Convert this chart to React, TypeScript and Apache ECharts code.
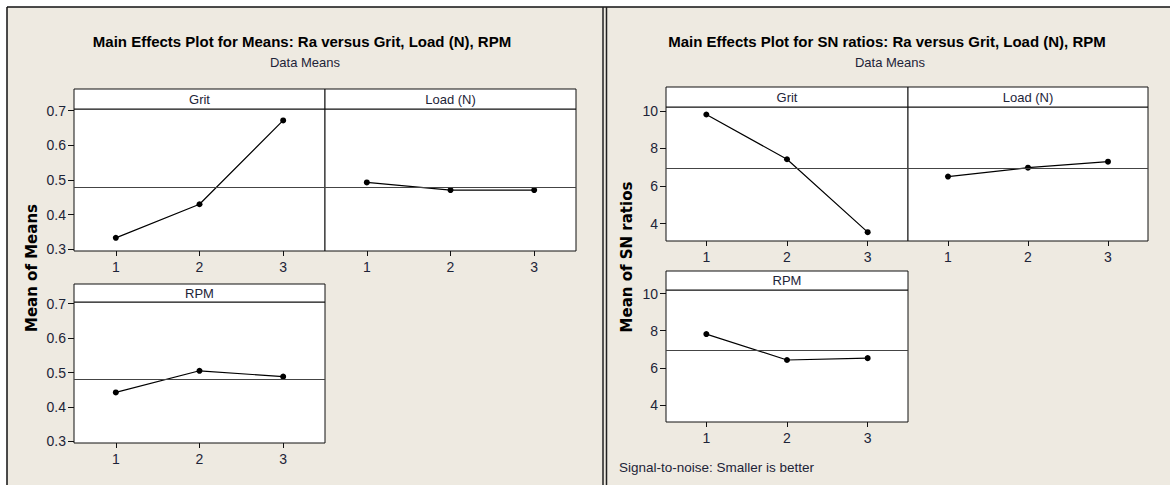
import React, { useEffect, useRef } from "react";
import * as echarts from "echarts";

const levels = [1, 2, 3];
const factorNames = ["Grit", "Load (N)", "RPM"];
const gritMeans = [0.333, 0.43, 0.672];
const loadMeans = [0.493, 0.471, 0.471];
const rpmMeans = [0.442, 0.505, 0.488];
const gritSN = [9.8, 7.42, 3.54];
const loadSN = [6.5, 6.97, 7.29];
const rpmSN = [7.82, 6.42, 6.52];
const meansTicks = [0.3, 0.4, 0.5, 0.6, 0.7];
const snTicks = [4, 6, 8, 10];

const leftTitle = "Main Effects Plot for Means: Ra versus Grit, Load (N), RPM";
const rightTitle = "Main Effects Plot for SN ratios: Ra versus Grit, Load (N), RPM";
const subTitle = "Data Means";
const leftYName = "Mean of Means";
const rightYName = "Mean of SN ratios";
const footNote = "Signal-to-noise: Smaller is better";

const BG = "#EEEAE1";
const TXT = "#1d2438";
const FONT = "Liberation Sans, Arial, sans-serif";

type Panel = {
  left: number; top: number; width: number; height: number;
  values: number[]; name: string; sn: boolean; showY: boolean; strip: number;
};

const panels: Panel[] = [
  { left: 74, top: 109, width: 251, height: 142, values: gritMeans, name: factorNames[0], sn: false, showY: true, strip: 20 },
  { left: 325, top: 109, width: 251, height: 142, values: loadMeans, name: factorNames[1], sn: false, showY: false, strip: 20 },
  { left: 74, top: 302, width: 251, height: 141, values: rpmMeans, name: factorNames[2], sn: false, showY: true, strip: 18 },
  { left: 666, top: 107, width: 242, height: 134, values: gritSN, name: factorNames[0], sn: true, showY: true, strip: 20 },
  { left: 908, top: 107, width: 240, height: 134, values: loadSN, name: factorNames[1], sn: true, showY: false, strip: 20 },
  { left: 666, top: 290, width: 242, height: 132, values: rpmSN, name: factorNames[2], sn: true, showY: true, strip: 19 },
];

const mean = (a: number[]) => a.reduce((s, v) => s + v, 0) / a.length;

export default function App() {
  const ref = useRef<HTMLDivElement>(null);
  useEffect(() => {
    document.body.style.margin = "0";
    if (!ref.current) return;
    const chart = echarts.init(ref.current, undefined, { renderer: "svg" });
    const grandMeans = mean([...gritMeans, ...loadMeans, ...rpmMeans]);
    const grandSN = mean([...gritSN, ...loadSN, ...rpmSN]);

    const grid = panels.map((p) => ({
      left: p.left, top: p.top, width: p.width, height: p.height,
      show: true, backgroundColor: "#ffffff", borderColor: "#111", borderWidth: 1,
      containLabel: false,
    }));
    const xAxis = panels.map((p, i) => ({
      type: "value", gridIndex: i, min: 0.5, max: 3.5,
      axisLine: { show: false }, splitLine: { show: false },
      axisTick: { show: true, customValues: levels, length: 5, lineStyle: { color: "#111" } },
      axisLabel: { customValues: levels, margin: 9, fontSize: 14, color: TXT, fontFamily: FONT },
    }));
    const yAxis = panels.map((p, i) => ({
      type: "value", gridIndex: i,
      min: p.sn ? 3.07 : 0.295, max: p.sn ? 10.2 : 0.705,
      axisLine: { show: false }, splitLine: { show: false },
      axisTick: { show: p.showY, customValues: p.sn ? snTicks : meansTicks, length: 6, lineStyle: { color: "#111" } },
      axisLabel: { show: p.showY, customValues: p.sn ? snTicks : meansTicks, margin: 8, fontSize: 14, color: TXT, fontFamily: FONT },
    }));
    const series = panels.map((p, i) => ({
      type: "line", xAxisIndex: i, yAxisIndex: i,
      data: levels.map((l, k) => [l, p.values[k]]),
      symbol: "circle", symbolSize: 6,
      itemStyle: { color: "#000" },
      lineStyle: { color: "#000", width: 1.2 },
      markLine: {
        silent: true, symbol: "none", label: { show: false },
        lineStyle: { color: "#444", width: 1.2, type: "solid" },
        data: [{ yAxis: p.sn ? grandSN : grandMeans }],
      },
    }));

    const graphic: any[] = [
      { type: "rect", z: -10, shape: { x: 7, y: 7, width: 1163, height: 478 }, style: { fill: BG } },
      { type: "line", shape: { x1: 7, y1: 7, x2: 1170, y2: 7 }, style: { stroke: "#111", lineWidth: 1.5 } },
      { type: "line", shape: { x1: 7, y1: 7, x2: 7, y2: 485 }, style: { stroke: "#111", lineWidth: 1.5 } },
      { type: "line", shape: { x1: 603, y1: 7, x2: 603, y2: 485 }, style: { stroke: "#222", lineWidth: 1.5 } },
      { type: "line", shape: { x1: 606.5, y1: 7, x2: 606.5, y2: 485 }, style: { stroke: "#222", lineWidth: 1.5 } },
      { type: "text", x: 302, y: 41, style: { text: leftTitle, font: `bold 15px ${FONT}`, fill: "#000", textAlign: "center", textVerticalAlign: "middle" } },
      { type: "text", x: 305, y: 62, style: { text: subTitle, font: `13px ${FONT}`, fill: TXT, textAlign: "center", textVerticalAlign: "middle" } },
      { type: "text", x: 887, y: 41, style: { text: rightTitle, font: `bold 15px ${FONT}`, fill: "#000", textAlign: "center", textVerticalAlign: "middle" } },
      { type: "text", x: 890, y: 62, style: { text: subTitle, font: `13px ${FONT}`, fill: TXT, textAlign: "center", textVerticalAlign: "middle" } },
      { type: "text", x: 32, y: 268, rotation: Math.PI / 2, style: { text: leftYName, font: `bold 15px DejaVu Sans, sans-serif`, fill: "#000", textAlign: "center", textVerticalAlign: "middle" } },
      { type: "text", x: 627, y: 257, rotation: Math.PI / 2, style: { text: rightYName, font: `bold 15px DejaVu Sans, sans-serif`, fill: "#000", textAlign: "center", textVerticalAlign: "middle" } },
      { type: "text", x: 619, y: 467, style: { text: footNote, font: `13.5px ${FONT}`, fill: TXT, textAlign: "left", textVerticalAlign: "middle" } },
    ];
    panels.forEach((p) => {
      graphic.push({
        type: "rect", shape: { x: p.left, y: p.top - p.strip, width: p.width, height: p.strip },
        style: { fill: "#ffffff", stroke: "#111", lineWidth: 1 },
      });
      graphic.push({
        type: "text", x: p.left + p.width / 2, y: p.top - p.strip / 2,
        style: { text: p.name, font: `13px ${FONT}`, fill: TXT, textAlign: "center", textVerticalAlign: "middle" },
      });
    });

    chart.setOption({
      animation: false,
      backgroundColor: "#ffffff",
      grid, xAxis, yAxis, series, graphic,
    } as any);
    return () => chart.dispose();
  }, []);
  return <div ref={ref} style={{ width: 1170, height: 485 }} />;
}
